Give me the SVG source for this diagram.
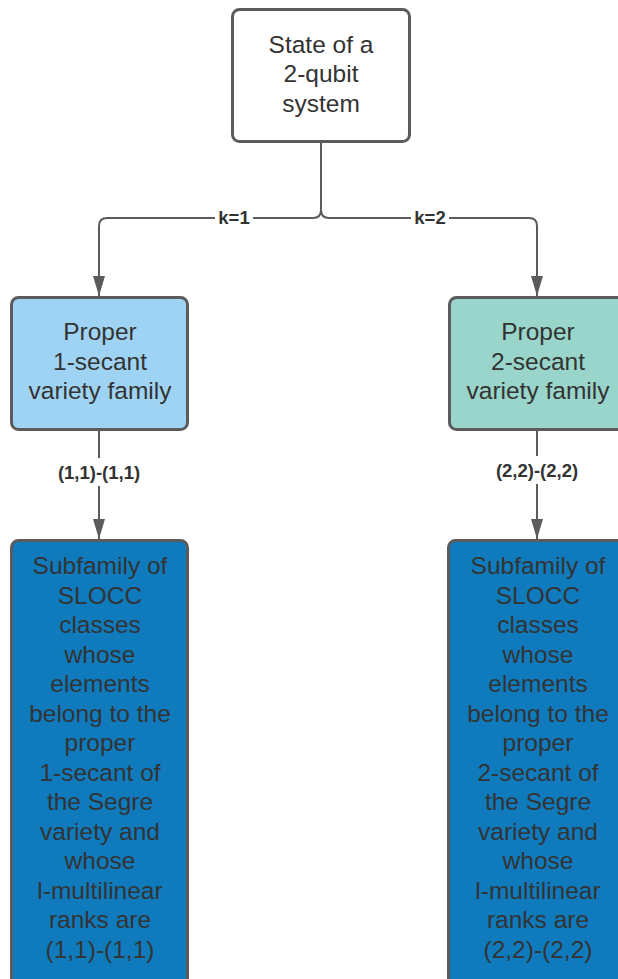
<svg xmlns="http://www.w3.org/2000/svg" width="618" height="979" viewBox="0 0 618 979">
<style>
.box{stroke:#5b5b5b;stroke-width:3}
.t{font-family:"Liberation Sans",Arial,sans-serif;font-size:24.5px;fill:#333;text-anchor:middle}
.lbl{font-family:"Liberation Sans",Arial,sans-serif;font-size:18.5px;font-weight:bold;fill:#333;text-anchor:middle}
.c{fill:none;stroke:#5b5b5b;stroke-width:2}
</style>
<defs>
<marker id="ah2" viewBox="0 0 20 12" refX="20" refY="6" markerWidth="20" markerHeight="12" orient="auto" markerUnits="userSpaceOnUse">
<path d="M0,0 L20,6 L0,12 Z" fill="#5b5b5b"/>
</marker>
</defs>
<rect width="618" height="979" fill="#fff"/>
<g id="connectors">
<path class="c" d="M321,142 V210 Q321,218 313,218 H107 Q99,218 99,226 V296" marker-end="url(#ah2)"/>
<path class="c" d="M321,142 V210 Q321,218 329,218 H529 Q537,218 537,226 V296" marker-end="url(#ah2)"/>
<rect x="215" y="206" width="38" height="22" fill="#fff"/>
<text class="lbl" x="234" y="224">k=1</text>
<rect x="411" y="206" width="38" height="22" fill="#fff"/>
<text class="lbl" x="430" y="224">k=2</text>
<path class="c" d="M99,430 V539" marker-end="url(#ah2)"/>
<rect x="52" y="458" width="94" height="28" fill="#fff"/>
<text class="lbl" x="99" y="479">(1,1)-(1,1)</text>
<path class="c" d="M537,430 V539" marker-end="url(#ah2)"/>
<rect x="490" y="456" width="94" height="28" fill="#fff"/>
<text class="lbl" x="537" y="477">(2,2)-(2,2)</text>
</g>
<g id="root">
<rect class="box" x="232.5" y="9.5" width="177" height="132" rx="7" fill="#fff"/>
<text class="t" x="321" y="53">State of a</text>
<text class="t" x="321" y="82">2-qubit</text>
<text class="t" x="321" y="112">system</text>
</g>
<g id="sec1">
<rect class="box" x="11.5" y="297.5" width="176" height="132" rx="7" fill="#9fd3f3"/>
<text class="t" x="100" y="340">Proper</text>
<text class="t" x="100" y="370">1-secant</text>
<text class="t" x="100" y="399">variety family</text>
</g>
<g id="sec2">
<rect class="box" x="449.5" y="297.5" width="176" height="132" rx="7" fill="#99d5ca"/>
<text class="t" x="538" y="340">Proper</text>
<text class="t" x="538" y="370">2-secant</text>
<text class="t" x="538" y="399">variety family</text>
</g>
<g id="sub1">
<rect class="box" x="11.5" y="540.5" width="176" height="445" rx="7" fill="#0f7bbd"/>
<text class="t" x="100"><tspan x="100" y="574">Subfamily of</tspan><tspan x="100" y="603.5">SLOCC</tspan><tspan x="100" y="633">classes</tspan><tspan x="100" y="662.5">whose</tspan><tspan x="100" y="692">elements</tspan><tspan x="100" y="721.5">belong to the</tspan><tspan x="100" y="751">proper</tspan><tspan x="100" y="780.5">1-secant of</tspan><tspan x="100" y="810">the Segre</tspan><tspan x="100" y="839.5">variety and</tspan><tspan x="100" y="869">whose</tspan><tspan x="100" y="898.5">l-multilinear</tspan><tspan x="100" y="928">ranks are</tspan><tspan x="100" y="957.5">(1,1)-(1,1)</tspan></text>
</g>
<g id="sub2">
<rect class="box" x="448.5" y="540.5" width="176" height="445" rx="7" fill="#0f7bbd"/>
<text class="t" x="538"><tspan x="538" y="574">Subfamily of</tspan><tspan x="538" y="603.5">SLOCC</tspan><tspan x="538" y="633">classes</tspan><tspan x="538" y="662.5">whose</tspan><tspan x="538" y="692">elements</tspan><tspan x="538" y="721.5">belong to the</tspan><tspan x="538" y="751">proper</tspan><tspan x="538" y="780.5">2-secant of</tspan><tspan x="538" y="810">the Segre</tspan><tspan x="538" y="839.5">variety and</tspan><tspan x="538" y="869">whose</tspan><tspan x="538" y="898.5">l-multilinear</tspan><tspan x="538" y="928">ranks are</tspan><tspan x="538" y="957.5">(2,2)-(2,2)</tspan></text>
</g>
</svg>
